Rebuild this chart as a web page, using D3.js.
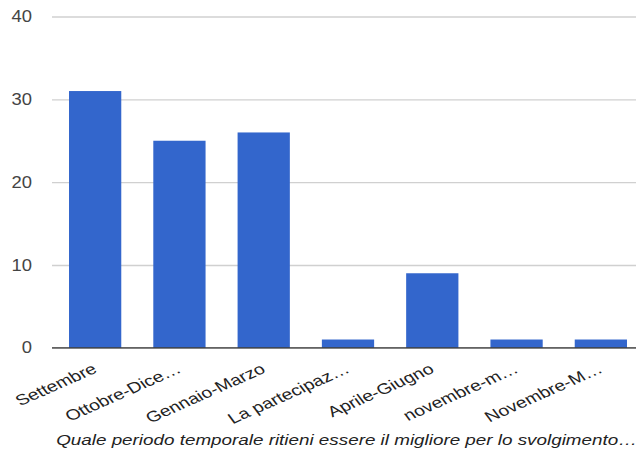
<!DOCTYPE html>
<html><head><meta charset="utf-8">
<script src="https://cdn.jsdelivr.net/npm/d3@7/dist/d3.min.js"></script>
<style>body{margin:0;background:#fff}svg{display:block}</style>
</head><body><div id="c"></div>
<script>
const categories = ["Settembre","Ottobre-Dice…","Gennaio-Marzo","La partecipaz…","Aprile-Giugno","novembre-m…","Novembre-M…"];
const values = [31,25,26,1,9,1,1];
const yTicks = [0,10,20,30,40];
const xTitle = "Quale periodo temporale ritieni essere il migliore per lo svolgimento…";

const W=636,H=450, SX=1.3;
const svg=d3.select("#c").append("svg").attr("width",W).attr("height",H);
const x=d3.scaleBand().domain(categories).range([53,643]).paddingInner(0.38).paddingOuter(0.19);
const y=d3.scaleLinear().domain([0,40]).range([347.8,16.5]);
const font="Liberation Sans, Arial, sans-serif";

const yAxis=svg.append("g").attr("transform","translate(52,0)")
  .call(d3.axisLeft(y).tickValues(yTicks).tickSize(-(W-52)).tickPadding(0));
yAxis.select(".domain").remove();
yAxis.selectAll(".tick line").attr("stroke","#d0d0d0").attr("stroke-width",1.3);
yAxis.selectAll(".tick text").attr("font-family",font).attr("font-size",16).attr("fill","#444")
  .attr("x",0).attr("transform",`translate(-20,0) scale(1.15,1)`);

svg.selectAll("rect.bar").data(values).enter().append("rect").attr("class","bar")
  .attr("x",(d,i)=>x(categories[i])).attr("width",x.bandwidth())
  .attr("y",d=>y(d)).attr("height",d=>y(0)-y(d)).attr("fill","#3366cc");

svg.append("line").attr("x1",52).attr("x2",W).attr("y1",y(0)).attr("y2",y(0))
  .attr("stroke","#333").attr("stroke-width",1.3);

const xAxis=svg.append("g").attr("transform",`translate(0,${y(0)})`)
  .call(d3.axisBottom(x).tickSize(0).tickPadding(0));
xAxis.select(".domain").remove();
xAxis.selectAll(".tick text").attr("font-family",font).attr("font-size",15).attr("fill","#222")
  .attr("text-anchor","end").attr("dy",0).attr("y",0)
  .attr("transform",`translate(3,24) scale(${SX},1) rotate(-30)`);

svg.append("text").attr("transform",`translate(637,445) scale(${SX},1)`).attr("text-anchor","end")
  .attr("font-family",font).attr("font-size",14.5).attr("font-style","italic").attr("fill","#222")
  .text(xTitle);
</script></body></html>
